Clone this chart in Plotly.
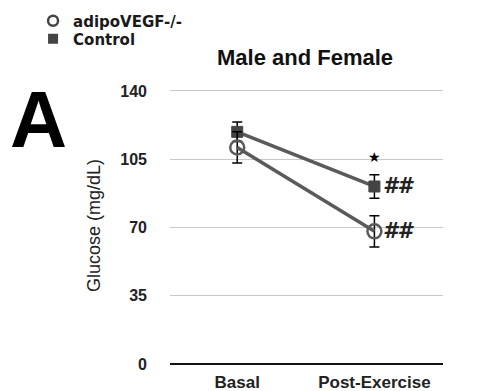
import plotly.graph_objects as go

categories = ["Basal", "Post-Exercise"]
adipo_vals = [111, 68]
adipo_err = [8, 8]
control_vals = [119, 91]
control_err = [5, 6]
y_ticks = [0, 35, 70, 105, 140]

x_pos = [0, 1]
FONT = "Liberation Sans, Arial, sans-serif"
LEG_FONT = "DejaVu Sans"

fig = go.Figure()
fig.add_trace(go.Scatter(
    x=x_pos, y=control_vals, mode="lines+markers", name="Control",
    line=dict(color="#5a5a5a", width=3.5),
    marker=dict(symbol="square", size=11, color="#444444", line=dict(color="#444444", width=1)),
    error_y=dict(type="data", array=control_err, color="black", thickness=1.5, width=5),
    showlegend=False,
))
fig.add_trace(go.Scatter(
    x=x_pos, y=adipo_vals, mode="lines+markers", name="adipoVEGF-/-",
    line=dict(color="#5a5a5a", width=3.5),
    marker=dict(symbol="circle-open", size=14, color="#5a5a5a", line=dict(width=2.5)),
    error_y=dict(type="data", array=adipo_err, color="black", thickness=1.5, width=5),
    showlegend=False,
))
# legend-only entries
fig.add_trace(go.Scatter(
    x=[None], y=[None], mode="markers", name="<b>adipoVEGF-/-</b>", legend="legend",
    marker=dict(symbol="circle-open", size=10, color="#444444", line=dict(width=2.5)),
))
fig.add_trace(go.Scatter(
    x=[None], y=[None], mode="markers", name="<b>Control</b>", legend="legend2",
    marker=dict(symbol="square", size=10, color="#444444"),
))

# significance marks
fig.add_annotation(x=1, y=control_vals[1] + 15, text="★", showarrow=False,
                   font=dict(size=14, color="black"), xanchor="center", yanchor="middle")
fig.add_annotation(x=1, y=control_vals[1], text="<b><i>##</i></b>", showarrow=False,
                   font=dict(size=21, color="#222222", family="DejaVu Sans"), xanchor="left", yanchor="middle", xshift=7)
fig.add_annotation(x=1, y=adipo_vals[1], text="<b><i>##</i></b>", showarrow=False,
                   font=dict(size=21, color="#222222", family="DejaVu Sans"), xanchor="left", yanchor="middle", xshift=7)

# panel letter
fig.add_annotation(x=-0.483, y=0.884, xref="paper", yref="paper", text="<b>A</b>", showarrow=False,
                   font=dict(size=79, color="black", family=FONT), xanchor="center", yanchor="middle")
fig.add_annotation(x=0.495, y=1.1047, xref="paper", yref="paper", text="<b>Male and Female</b>", showarrow=False,
                   font=dict(size=22, color="#111111", family=FONT), xanchor="center", yanchor="middle")

leg_common = dict(xanchor="left", yanchor="middle",
                  font=dict(size=15, family=LEG_FONT, color="#1a1a1a"),
                  bgcolor="rgba(0,0,0,0)")
fig.update_layout(
    width=482, height=391,
    margin=dict(l=170, r=39, t=87, b=27, autoexpand=False),
    paper_bgcolor="white", plot_bgcolor="white",
    font=dict(family=FONT, color="#111111"),
    legend=dict(x=-0.5016, y=1.2383, **leg_common),
    legend2=dict(x=-0.5016, y=1.1733, **leg_common),
    xaxis=dict(
        tickmode="array", tickvals=x_pos, ticktext=["<b>%s</b>" % c for c in categories],
        range=[-0.49, 1.5], showgrid=False, zeroline=False, showline=False,
        tickfont=dict(size=17, color="#222222"), ticks="", ticklabelstandoff=6,
        automargin=False,
    ),
    yaxis=dict(
        tickmode="array", tickvals=y_ticks, ticktext=["<b>%d</b>" % t for t in y_ticks],
        range=[0, 142], showgrid=True, gridcolor="#c8c8c8", gridwidth=1,
        zeroline=True, zerolinecolor="#111111", zerolinewidth=1.5,
        showline=False, ticks="", tickfont=dict(size=16, color="#222222"),
        ticklabelstandoff=22, automargin=False,
        title=dict(text="Glucose (mg/dL)", font=dict(size=18, color="#222222"), standoff=14),
    ),
)

fig.write_html("out.html")
